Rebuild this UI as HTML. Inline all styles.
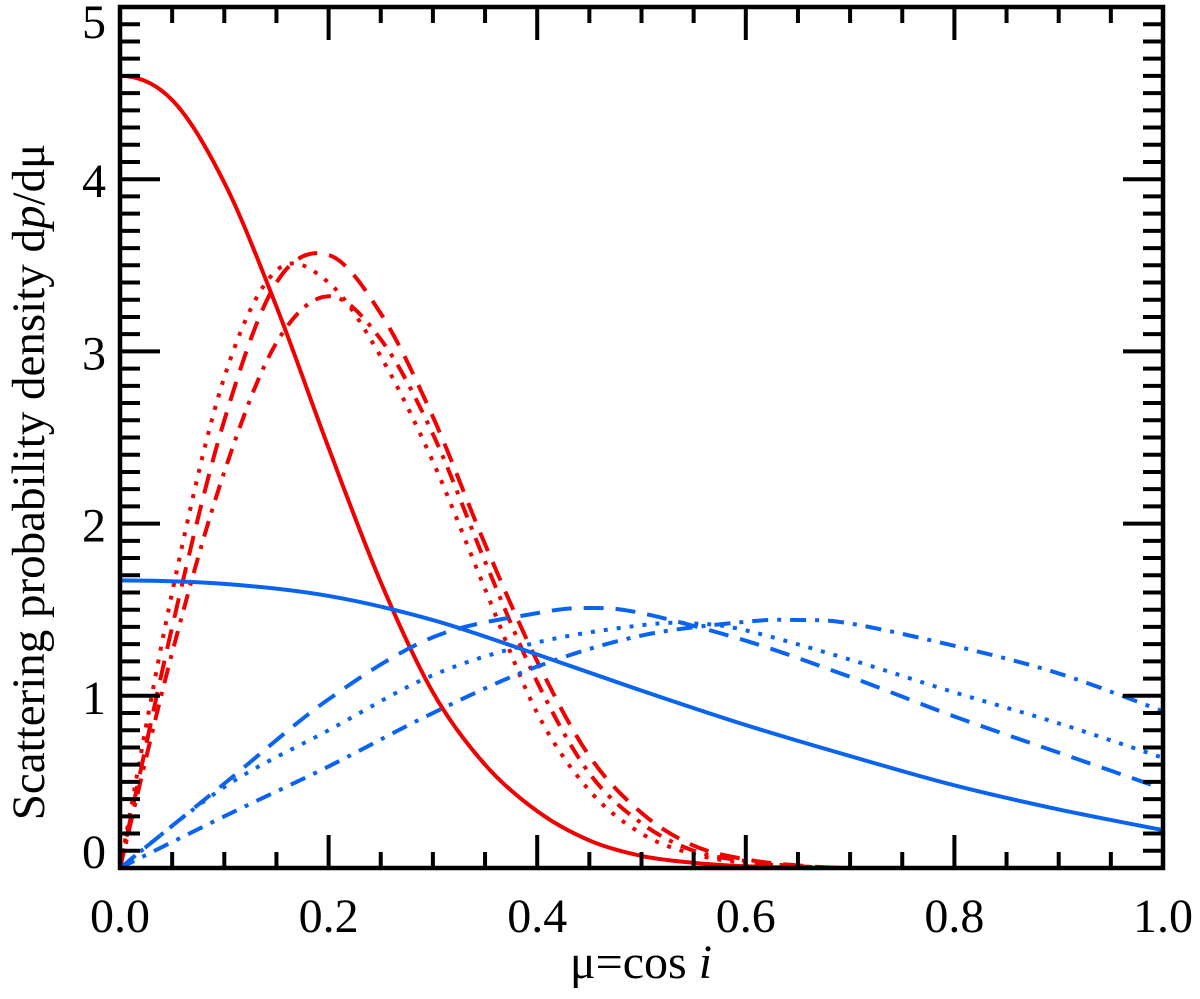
<!DOCTYPE html>
<html><head><meta charset="utf-8"><style>
html,body{margin:0;padding:0;background:#fff;}
svg{display:block;}
svg text{font-family:"Liberation Serif","Times New Roman","DejaVu Serif",serif;}
</style></head><body>
<svg id="chart" width="1200" height="999" viewBox="0 0 1200 999">
<g id="marks"></g>
<g id="axes"></g>
</svg>
<script>
const xTickLabels=["0.0","0.2","0.4","0.6","0.8","1.0"];
const yTickLabels=["0","1","2","3","4","5"];
const redSolidX=[0,.05,.1,.15,.2,.25,.3,.35,.4,.45,.5,.55,.6,.65,.7,.8,.9,1];
const redSolidY=[4.6,4.46,3.98,3.26,2.44,1.66,1.02,0.6,0.33,0.16,0.07,0.03,0.01,0.003,0,0,0,0];
const redPeakX=[0,.05,.1,.15,.2,.25,.3,.35,.4,.45,.5,.55,.6,.65,.7,.8,.9,1];
const redDashedY=[0,1.4,2.6,3.4,3.56,3.22,2.62,1.88,1.2,0.65,0.32,0.13,0.05,0.015,0,0,0,0];
const redDottedY=[0,1.6,2.85,3.47,3.4,2.97,2.36,1.62,0.9,0.45,0.2,0.08,0.03,0.01,0,0,0,0];
const redDashDotY=[0,1.25,2.3,3.05,3.32,3.07,2.52,1.78,1.08,0.55,0.26,0.1,0.04,0.01,0,0,0,0];
const blueSolidX=[0,.1,.2,.3,.4,.5,.6,.7,.8,.9,1];
const blueSolidY=[1.67,1.65,1.58,1.44,1.24,1.03,0.83,0.65,0.48,0.34,0.22];
const blueDashedX=[0,.1,.2,.3,.4,.45,.5,.6,.7,.8,.9,1];
const blueDashedY=[0,0.49,0.98,1.34,1.48,1.51,1.48,1.32,1.11,0.88,0.67,0.46];
const blueDottedX=[0,.1,.2,.3,.4,.5,.55,.6,.7,.8,.9,1];
const blueDottedY=[0,0.47,0.8,1.12,1.31,1.41,1.42,1.38,1.21,1.02,0.84,0.64];
const blueDashDotX=[0,.1,.2,.3,.4,.5,.6,.65,.7,.8,.9,1];
const blueDashDotY=[0,0.3,0.59,0.9,1.17,1.35,1.43,1.44,1.42,1.29,1.13,0.91];

const L=120,R=1163,T=7,B=868;
const sx=v=>L+v*(R-L);
const sy=v=>B-v/5*(B-T);
const NS="http://www.w3.org/2000/svg";
const marks=document.getElementById('marks'),axes=document.getElementById('axes');
function mk(tag,attrs,parent){const e=document.createElementNS(NS,tag);for(const k in attrs)e.setAttribute(k,attrs[k]);parent.appendChild(e);return e;}
function pathD(xs,ys,flatStart){
  const p=xs.map((x,i)=>[sx(x),sy(ys[i])]);
  let d=`M${p[0][0]},${p[0][1]}`;
  for(let i=0;i<p.length-1;i++){
    const p0=p[Math.max(0,i-1)],p1=p[i],p2=p[i+1],p3=p[Math.min(p.length-1,i+2)];
    let c1y=p1[1]+(p2[1]-p0[1])/6,c2y=p2[1]-(p3[1]-p1[1])/6;
    let c1x=p1[0]+(p2[0]-p0[0])/6;
    if(i===0&&flatStart){c1y=p1[1];c1x=p1[0]+(p2[0]-p1[0])/3;}
    c1y=Math.min(c1y,B);c2y=Math.min(c2y,B);
    d+=` C${c1x},${c1y} ${p2[0]-(p3[0]-p1[0])/6},${c2y} ${p2[0]},${p2[1]}`;
  }
  return d;
}
const series=[
 ["red-solid-curve",redSolidX,redSolidY,"#f00000","",true],
 ["red-dashed-curve",redPeakX,redDashedY,"#f00000","20,12",false],
 ["red-dotted-curve",redPeakX,redDottedY,"#f00000","4,9",false],
 ["red-dashdot-curve",redPeakX,redDashDotY,"#f00000","16,9,4,9",false],
 ["blue-solid-curve",blueSolidX,blueSolidY,"#0a64f0","",true],
 ["blue-dashed-curve",blueDashedX,blueDashedY,"#0a64f0","20,12",false],
 ["blue-dotted-curve",blueDottedX,blueDottedY,"#0a64f0","4,9",false],
 ["blue-dashdot-curve",blueDashDotX,blueDashDotY,"#0a64f0","16,9,4,9",false]
];
series.forEach(s=>{
  const e=mk('path',{d:pathD(s[1],s[2],s[5]),fill:'none',stroke:s[3],'stroke-width':4,'stroke-dasharray':s[4]},marks);
  
  
});
const fr=mk('rect',{x:L,y:T,width:R-L,height:B-T,fill:'none',stroke:'#000','stroke-width':4.5},axes);


for(let i=0;i<=20;i++){
  const v=i*0.05,x=sx(v),len=(i%4===0)?33:16;
  mk('line',{x1:x,y1:B,x2:x,y2:B-len,stroke:'#000','stroke-width':4},axes);
  mk('line',{x1:x,y1:T,x2:x,y2:T+len,stroke:'#000','stroke-width':4},axes);
}
for(let i=0;i<=50;i++){
  const v=i*0.1,y=sy(v),len=(i%10===0)?40:20;
  mk('line',{x1:L,y1:y,x2:L+len,y2:y,stroke:'#000','stroke-width':4},axes);
  mk('line',{x1:R,y1:y,x2:R-len,y2:y,stroke:'#000','stroke-width':4},axes);
}
xTickLabels.forEach((t,i)=>{
  const e=mk('text',{x:sx(i*0.2),y:932,'font-size':48,'text-anchor':'middle','font-family':'Liberation Serif, DejaVu Serif, serif'},axes);
  e.textContent=t;
  
  
});
yTickLabels.forEach((t,i)=>{
  const by=i===0?868:(i===5?38:sy(i)+18);
  const e=mk('text',{x:106,y:by,'font-size':48,'text-anchor':'end','font-family':'Liberation Serif, DejaVu Serif, serif'},axes);
  e.textContent=t;
  
  
});
const xt=mk('text',{x:641,y:978,'font-size':48,'text-anchor':'middle','font-family':'Liberation Serif, DejaVu Serif, serif'},axes);
xt.innerHTML='μ=cos <tspan font-style="italic">i</tspan>';


const yt=mk('text',{x:0,y:0,'font-size':47,'text-anchor':'middle','font-family':'Liberation Serif, DejaVu Serif, serif',transform:'translate(44,482) rotate(-90)'},axes);
yt.innerHTML='Scattering probability density d<tspan font-style="italic">p</tspan>/dμ';


</script>
</body></html>
